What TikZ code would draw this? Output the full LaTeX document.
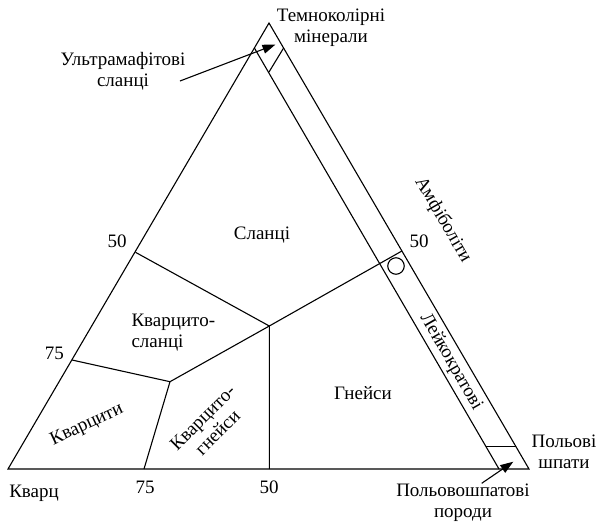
\documentclass[tikz,border=0pt]{standalone}
\usepackage{fontspec}
\setmainfont{Liberation Serif}
\usetikzlibrary{arrows.meta}
\begin{document}
\begin{tikzpicture}[x=1pt, y=-1pt, line width=1.1pt,
    lbl/.style = {font=\fontsize{19}{21}\selectfont, inner sep=0pt, align=center},
    pnt/.style = {-{Triangle[length=13pt, width=9pt]}}]
    \useasboundingbox (0,0) rectangle (598,523);
    \coordinate (q) at (8,469);
    \coordinate (t) at (269,23);
    \coordinate (f) at (529,469);
    \coordinate (ti) at (254.4,48);
    \coordinate (fi) at (499,469);
    \coordinate (l50) at (135.5,252.3);
    \coordinate (l75) at (72,360);
    \coordinate (b75) at (144,469);
    \coordinate (b50) at (269.3,469);
    \coordinate (r50) at (401.9,251);
    \coordinate (j1) at (269.3,326);
    \coordinate (j2) at (170,381.7);
    \draw (q) -- (t) -- (f) -- cycle;
    \draw (ti) -- (fi);
    \draw (283.6,48) -- (269,72);
    \draw (486,446.7) -- (516,446.7);
    \draw (l50) -- (j1) -- (b50);
    \draw (j1) -- (r50);
    \draw (l75) -- (j2) -- (b75);
    \draw (j2) -- (j1);
    \node[draw, circle, minimum size=16.5pt, inner sep=0pt] (o) at (396,266) {};
    \node[lbl] (1) at (331,28) {Темноколірні\\мінерали};
    \node[lbl] (2) at (123,71) {Ультрамафітові\\сланці};
    \node[lbl] (3) at (564,452) {Польові\\шпати};
    \node[lbl] (4) at (463,503) {Польовошпатові\\породи};
    \node[lbl] (5) at (34,493) {Кварц};
    \node[lbl] (6) at (145,487) {75};
    \node[lbl] (7) at (269,487) {50};
    \node[lbl] (8) at (54.5,353) {75};
    \node[lbl] (9) at (117,241) {50};
    \node[lbl] (10) at (419,241) {50};
    \node[lbl] (11) at (262,235) {Сланці};
    \node[lbl, align=left, anchor=west] (12) at (131,333) {Кварцито-\\сланці};
    \node[lbl, rotate=25] (13) at (87,425) {Кварцити};
    \node[lbl, rotate=45] (14) at (210,425) {Кварцито-\\гнейси};
    \node[lbl] (15) at (363,393) {Гнейси};
    \node[lbl, rotate=-60] (16) at (443,220) {Амфіболіти};
    \node[lbl, rotate=-60] (17) at (451,362) {Лейкократові};
    \coordinate (a1) at (180,81);
    \coordinate (a2) at (275.5,44.5);
    \coordinate (a3) at (481.7,483.3);
    \coordinate (a4) at (513.3,461.7);
    \draw[pnt] (a1) -- (a2);
    \draw[pnt] (a3) -- (a4);
\end{tikzpicture}
\end{document}
